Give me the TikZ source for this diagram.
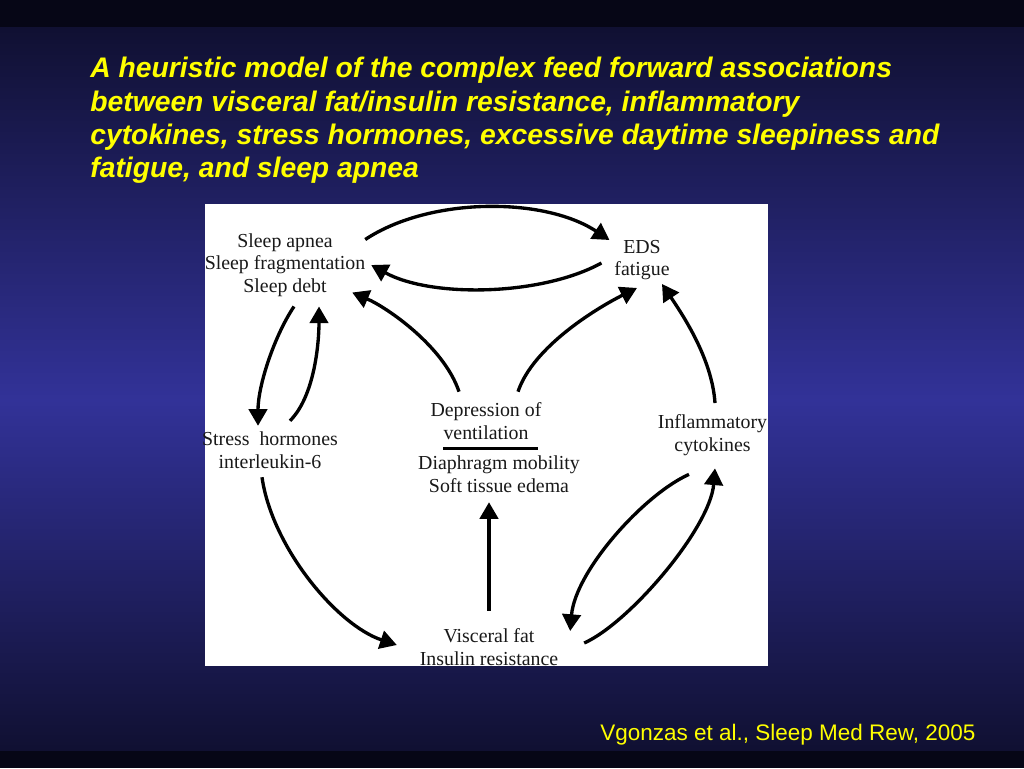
\documentclass[tikz,border=0pt]{standalone}
\usepackage{fontspec}
\setmainfont{Liberation Serif}
\newfontfamily\slidefont{Liberation Sans}
\usetikzlibrary{arrows.meta}
\definecolor{slideyellow}{RGB}{255,255,0}
\definecolor{slidedark}{RGB}{6,6,22}
\definecolor{slidenavy}{RGB}{16,16,50}
\definecolor{slideblue}{RGB}{50,50,152}
\definecolor{inkgray}{RGB}{25,25,25}

\begin{document}
\begin{tikzpicture}[x=0.02cm,y=-0.02cm,
        lbl/.style={align=center,inner sep=0pt,outer sep=0pt,text=inkgray,font=\fontsize{11.3pt}{12.8pt}\selectfont},
        arr/.style={line width=1.9pt,-{Triangle[length=9.5pt,width=10.5pt]}}]
        % Background
        \useasboundingbox (0,0) rectangle (1024,768);
        \fill[slidedark] (0,0) rectangle (1024,768);
        \shade[top color=slidenavy,bottom color=slideblue] (0,27) rectangle (1024,400);
        \shade[top color=slideblue,bottom color=slidenavy] (0,400) rectangle (1024,750);
        
        % Title
        \node[anchor=north west,align=left,inner sep=0pt,text=slideyellow,
            font=\slidefont\bfseries\itshape\fontsize{16.1pt}{18.9pt}\selectfont] (title) at (90,57)
            {A heuristic model of the complex feed forward associations\\
             between visceral fat/insulin resistance, inflammatory\\
             cytokines, stress hormones, excessive daytime sleepiness and\\
             fatigue, and sleep apnea};
        
        % Diagram panel
        \fill[white] (205,204) rectangle (768,666);
        \node[lbl] (sleep) at (285,265) {Sleep apnea\\Sleep fragmentation\\Sleep debt};
        \node[lbl] (eds) at (642,260) {EDS\\fatigue};
        \node[lbl] (stress) at (270,450) {Stress~ hormones\\interleukin-6};
        \node[lbl] (ventil) at (486,421) {Depression of\\ventilation};
        \node[lbl] (edema) at (499,474) {Diaphragm mobility\\Soft tissue edema};
        \node[lbl] (cyto) at (712.5,435) {Inflammatory\\cytokines};
        \node[lbl] (fat) at (489,647) {Visceral fat\\Insulin resistance};
        \draw[line width=1.5pt] ([shift={(-43,9)}]ventil.south) -- ([shift={(52,9)}]ventil.south);
        
        % Arrows
        \draw[arr] ([shift={(0,6)}]sleep.north east) .. controls +(65,-43) and +(-65,-43) .. ([shift={(-5,-20)}]eds.west);
        \draw[arr] ([shift={(-13,3)}]eds.west) .. controls +(-60,33) and +(60,33) .. ([shift={(6,0)}]sleep.east);
        \draw[arr] ([shift={(-27,-11)}]ventil.north) .. controls +(-15,-45) and +(35,15) .. ([shift={(-13,-4)}]sleep.south east);
        \draw[arr] ([shift={(32,-11)}]ventil.north) .. controls +(15,-45) and +(-40,20) .. ([shift={(-5,8)}]eds.south);
        \draw[arr] ([shift={(2.5,-11.6)}]cyto.north) .. controls +(-3,-45) and +(20,30) .. ([shift={(20,4)}]eds.south);
        \draw[arr] ([shift={(9,10)}]sleep.south) .. controls +(-20,30) and +(0,-40) .. ([shift={(-12,-6)}]stress.north);
        \draw[arr] ([shift={(20,-11)}]stress.north) .. controls +(25,-25) and +(0,35) .. ([shift={(34,10)}]sleep.south);
        \draw[arr] ([shift={(-8,9)}]stress.south) .. controls +(10,70) and +(-60,-20) .. ([shift={(-23,-2)}]fat.west);
        \draw[arr] ([shift={(0,-18)}]fat.north) -- ([shift={(-10,10)}]edema.south);
        \draw[arr] ([shift={(-23.5,19)}]cyto.south) .. controls +(-45,20) and +(5,-60) .. ([shift={(12,-16)}]fat.east);
        \draw[arr] ([shift={(26,-4)}]fat.east) .. controls +(45,-20) and +(-5,60) .. ([shift={(2.5,13)}]cyto.south);
        
        % Source
        \node[anchor=base west,inner sep=0pt,text=slideyellow,
            font=\slidefont\fontsize{12.8pt}{15pt}\selectfont] (cite) at (600,740) {Vgonzas et al., Sleep Med Rew, 2005};
    \end{tikzpicture}
\end{document}
